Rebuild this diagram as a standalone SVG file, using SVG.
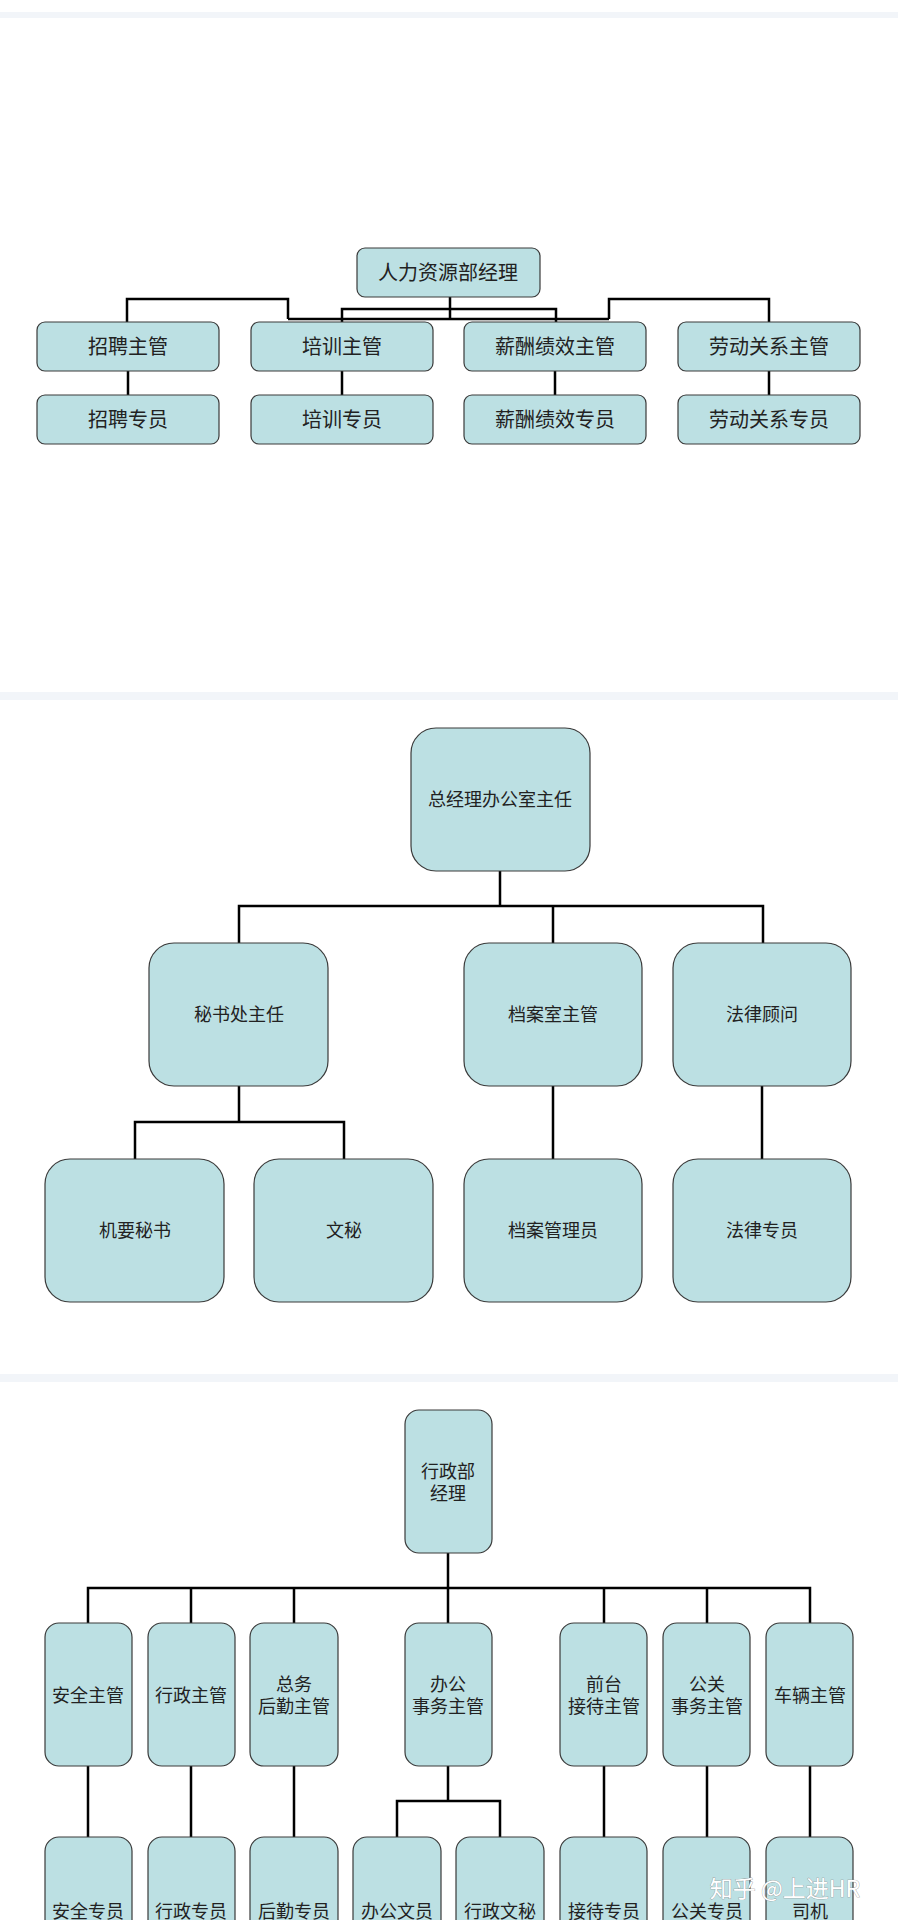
<svg xmlns="http://www.w3.org/2000/svg" width="898" height="1920" viewBox="0 0 898 1920">
<style>
.b{fill:#bce0e3;stroke:#3a3a3a;stroke-width:1.2}
text{font-family:"Liberation Serif","Noto Sans CJK SC",serif;fill:#222;text-anchor:middle;dominant-baseline:central}
.t1{font-size:20px}.t2{font-size:18px}.t3{font-size:18px}
.c{fill:none;stroke:#000;stroke-width:2.5}
.band{fill:#f2f5f9}
</style>
<rect width="898" height="1920" fill="#fff"/>
<rect class="band" x="0" y="12" width="898" height="6"/>
<rect class="band" x="0" y="692" width="898" height="8"/>
<rect class="band" x="0" y="1374" width="898" height="8"/>
<g id="connectors">
<path class="c" d="M450 297V319M288 319H609M288 319V299H127V322M609 319V299H769V322M342 322V309H556V322"/>
<path class="c" d="M128 371V395M342 371V395M555 371V395M769 371V395"/>
<path class="c" d="M500 871V906M239 943V906H763V943M553 906V943M239 1086V1122M135 1159V1122H344V1159M553 1086V1159M762 1086V1159"/>
<path class="c" d="M448 1553V1588M88 1623V1588H810V1623M191 1588V1623M294 1588V1623M448 1588V1623M604 1588V1623M707 1588V1623"/>
<path class="c" d="M88 1766V1837M191 1766V1837M294 1766V1837M604 1766V1837M707 1766V1837M810 1766V1837M448 1766V1801M397 1837V1801H500V1837"/>
</g>
<g id="hr"><rect class="b" x="357" y="248" width="183" height="49" rx="8"/><text class="t1" x="448" y="273">人力资源部经理</text></g>
<g id="s1a"><rect class="b" x="37" y="322" width="182" height="49" rx="8"/><text class="t1" x="128" y="347">招聘主管</text></g>
<g id="s1b"><rect class="b" x="251" y="322" width="182" height="49" rx="8"/><text class="t1" x="342" y="347">培训主管</text></g>
<g id="s1c"><rect class="b" x="464" y="322" width="182" height="49" rx="8"/><text class="t1" x="555" y="347">薪酬绩效主管</text></g>
<g id="s1d"><rect class="b" x="678" y="322" width="182" height="49" rx="8"/><text class="t1" x="769" y="347">劳动关系主管</text></g>
<g id="s1e"><rect class="b" x="37" y="395" width="182" height="49" rx="8"/><text class="t1" x="128" y="420">招聘专员</text></g>
<g id="s1f"><rect class="b" x="251" y="395" width="182" height="49" rx="8"/><text class="t1" x="342" y="420">培训专员</text></g>
<g id="s1g"><rect class="b" x="464" y="395" width="182" height="49" rx="8"/><text class="t1" x="555" y="420">薪酬绩效专员</text></g>
<g id="s1h"><rect class="b" x="678" y="395" width="182" height="49" rx="8"/><text class="t1" x="769" y="420">劳动关系专员</text></g>

<g id="gm"><rect class="b" x="411" y="728" width="179" height="143" rx="25"/><text class="t2" x="500" y="800">总经理办公室主任</text></g>
<g id="s2a"><rect class="b" x="149" y="943" width="179" height="143" rx="25"/><text class="t2" x="239" y="1015">秘书处主任</text></g>
<g id="s2b"><rect class="b" x="464" y="943" width="178" height="143" rx="25"/><text class="t2" x="553" y="1015">档案室主管</text></g>
<g id="s2c"><rect class="b" x="673" y="943" width="178" height="143" rx="25"/><text class="t2" x="762" y="1015">法律顾问</text></g>
<g id="s2d"><rect class="b" x="45" y="1159" width="179" height="143" rx="25"/><text class="t2" x="135" y="1231">机要秘书</text></g>
<g id="s2e"><rect class="b" x="254" y="1159" width="179" height="143" rx="25"/><text class="t2" x="344" y="1231">文秘</text></g>
<g id="s2f"><rect class="b" x="464" y="1159" width="178" height="143" rx="25"/><text class="t2" x="553" y="1231">档案管理员</text></g>
<g id="s2g"><rect class="b" x="673" y="1159" width="178" height="143" rx="25"/><text class="t2" x="762" y="1231">法律专员</text></g>

<g id="ad"><rect class="b" x="405" y="1410" width="87" height="143" rx="14"/><text class="t3" x="448" y="1472">行政部</text><text class="t3" x="448" y="1494">经理</text></g>
<g id="s3a"><rect class="b" x="45" y="1623" width="87" height="143" rx="14"/><text class="t3" x="88" y="1696">安全主管</text></g>
<g id="s3b"><rect class="b" x="148" y="1623" width="87" height="143" rx="14"/><text class="t3" x="191" y="1696">行政主管</text></g>
<g id="s3c"><rect class="b" x="250" y="1623" width="88" height="143" rx="14"/><text class="t3" x="294" y="1685">总务</text><text class="t3" x="294" y="1707">后勤主管</text></g>
<g id="s3d"><rect class="b" x="405" y="1623" width="87" height="143" rx="14"/><text class="t3" x="448" y="1685">办公</text><text class="t3" x="448" y="1707">事务主管</text></g>
<g id="s3e"><rect class="b" x="560" y="1623" width="87" height="143" rx="14"/><text class="t3" x="604" y="1685">前台</text><text class="t3" x="604" y="1707">接待主管</text></g>
<g id="s3f"><rect class="b" x="663" y="1623" width="87" height="143" rx="14"/><text class="t3" x="707" y="1685">公关</text><text class="t3" x="707" y="1707">事务主管</text></g>
<g id="s3g"><rect class="b" x="766" y="1623" width="87" height="143" rx="14"/><text class="t3" x="810" y="1696">车辆主管</text></g>
<g id="s3h"><rect class="b" x="45" y="1837" width="87" height="143" rx="14"/><text class="t3" x="88" y="1912">安全专员</text></g>
<g id="s3i"><rect class="b" x="148" y="1837" width="87" height="143" rx="14"/><text class="t3" x="191" y="1912">行政专员</text></g>
<g id="s3j"><rect class="b" x="250" y="1837" width="88" height="143" rx="14"/><text class="t3" x="294" y="1912">后勤专员</text></g>
<g id="s3k"><rect class="b" x="353" y="1837" width="88" height="143" rx="14"/><text class="t3" x="397" y="1912">办公文员</text></g>
<g id="s3l"><rect class="b" x="456" y="1837" width="88" height="143" rx="14"/><text class="t3" x="500" y="1912">行政文秘</text></g>
<g id="s3m"><rect class="b" x="560" y="1837" width="87" height="143" rx="14"/><text class="t3" x="604" y="1912">接待专员</text></g>
<g id="s3n"><rect class="b" x="663" y="1837" width="87" height="143" rx="14"/><text class="t3" x="707" y="1912">公关专员</text></g>
<g id="s3o"><rect class="b" x="766" y="1837" width="87" height="143" rx="14"/><text class="t3" x="810" y="1912">司机</text></g>
<text x="785" y="1887" style="font-family:'Noto Sans CJK SC',sans-serif;font-size:23px;fill:#fff;stroke:#888;stroke-width:0.6;paint-order:stroke">知乎 @上进HR</text>
</svg>
